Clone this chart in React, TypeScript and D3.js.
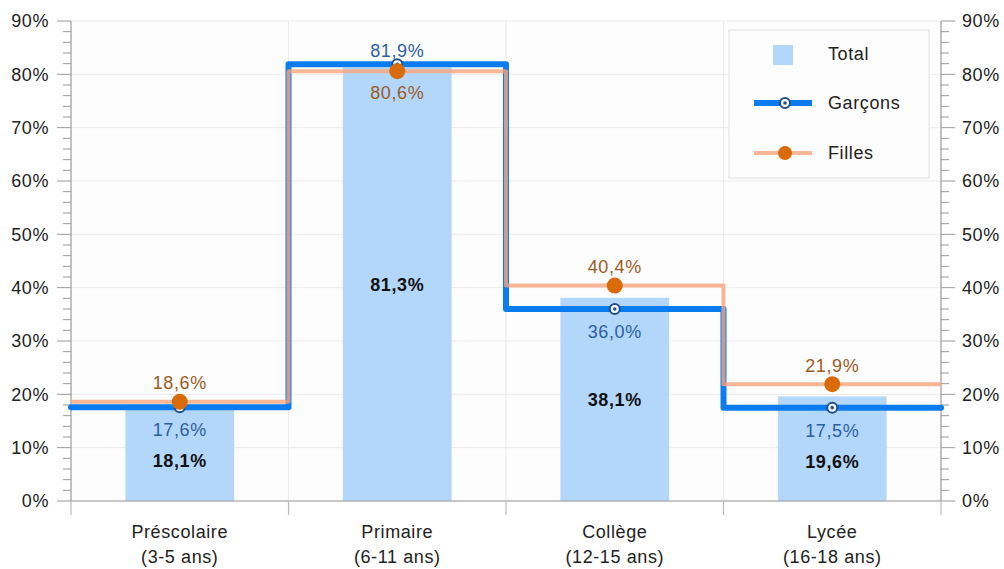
import React from "react";
import * as d3 from "d3";

const categories = ["Préscolaire", "Primaire", "Collège", "Lycée"];
const ageRanges = ["(3-5 ans)", "(6-11 ans)", "(12-15 ans)", "(16-18 ans)"];
const total = [18.1, 81.3, 38.1, 19.6];
const garcons = [17.6, 81.9, 36.0, 17.5];
const filles = [18.6, 80.6, 40.4, 21.9];
const yTicks = [0, 10, 20, 30, 40, 50, 60, 70, 80, 90];
const minorTicks = d3.range(0, 91, 2);

const W = 1004;
const H = 569;
const m = { left: 71, right: 63, top: 21, bottom: 68 };
const FONT = "Arial, 'Liberation Sans', sans-serif";
const FS = 18;
const LS = 0.6;
const FILLES_LINE = "#faa47c";
const FILLES_OP = 0.8;

const fmt = (v: number) => v.toFixed(1).replace(".", ",") + "%";

export default function App() {
  const x = d3
    .scaleBand<string>()
    .domain(categories)
    .range([m.left, W - m.right])
    .paddingInner(0)
    .paddingOuter(0);
  const y = d3.scaleLinear().domain([0, 90]).range([H - m.bottom, m.top]);
  const bw = x.bandwidth();
  const x0 = m.left;
  const x1 = W - m.right;

  const stepLine = (vals: number[]) => {
    const pts: [number, number][] = vals.map((v, i) => [x(categories[i])!, y(v)]);
    pts.push([x1, y(vals[vals.length - 1])]);
    return d3.line().curve(d3.curveStepAfter)(pts) || "";
  };

  const cx = (i: number) => x(categories[i])! + bw / 2;

  return (
    <svg
      width={W}
      height={H}
      style={{ position: "absolute", left: 0, top: 0, fontFamily: FONT, letterSpacing: LS }}
    >
      <rect x={0} y={0} width={W} height={H} fill="#fff" />
      <rect x={x0} y={m.top} width={x1 - x0} height={y(0) - m.top} fill="#fdfdfd" />
      {/* gridlines */}
      {yTicks.map((t) => (
        <line key={"g" + t} x1={x0} x2={x1} y1={y(t)} y2={y(t)} stroke="#ebebeb" strokeWidth={1} />
      ))}
      {categories.slice(1).map((c) => (
        <line key={"vg" + c} x1={x(c)!} x2={x(c)!} y1={m.top} y2={y(0)} stroke="#ebebeb" strokeWidth={1} />
      ))}
      {/* bars */}
      {total.map((v, i) => (
        <rect
          key={"b" + i}
          x={cx(i) - bw / 4}
          width={bw / 2}
          y={y(v)}
          height={y(0) - y(v)}
          fill="#b3d7fb"
        />
      ))}
      {/* axes */}
      <line x1={x0} x2={x0} y1={m.top} y2={y(0)} stroke="#999" strokeWidth={1.2} />
      <line x1={x1} x2={x1} y1={m.top} y2={y(0)} stroke="#999" strokeWidth={1.2} />
      {minorTicks.map((t) => {
        const major = t % 10 === 0;
        return (
          <g key={"mt" + t}>
            <line x1={x0 - (major ? 14 : 8)} x2={x0} y1={y(t)} y2={y(t)} stroke="#999" strokeWidth={1} />
            <line x1={x1} x2={x1 + (major ? 14 : 8)} y1={y(t)} y2={y(t)} stroke="#999" strokeWidth={1} />
          </g>
        );
      })}
      {yTicks.map((t) => (
        <g key={"yl" + t} fontSize={FS} fill="#222">
          <text x={x0 - 22} y={y(t)} dy="0.35em" textAnchor="end">
            {t}%
          </text>
          <text x={x1 + 21} y={y(t)} dy="0.35em" textAnchor="start">
            {t}%
          </text>
        </g>
      ))}
      <line x1={x0} x2={x1} y1={y(0)} y2={y(0)} stroke="#999" strokeWidth={1.2} />
      {[...categories.map((c) => x(c)!), x1].map((px, i) => (
        <line key={"xt" + i} x1={px} x2={px} y1={y(0)} y2={y(0) + 14} stroke="#bbb" strokeWidth={1.2} />
      ))}
      {categories.map((c, i) => (
        <g key={"xl" + c} fontSize={FS} fill="#222" textAnchor="middle">
          <text x={cx(i)} y={538}>
            {c}
          </text>
          <text x={cx(i)} y={563}>
            {ageRanges[i]}
          </text>
        </g>
      ))}
      {/* lines */}
      <path d={stepLine(garcons)} fill="none" stroke="#0a7cf0" strokeWidth={6} strokeLinejoin="round" strokeLinecap="round" />
      <path d={stepLine(filles)} fill="none" stroke={FILLES_LINE} strokeOpacity={FILLES_OP} strokeWidth={4} strokeLinejoin="round" />
      {/* markers */}
      {garcons.map((v, i) => (
        <g key={"gm" + i}>
          <circle cx={cx(i)} cy={y(v)} r={5} fill="#fff" stroke="#1f4e8c" strokeWidth={2} />
          <circle cx={cx(i)} cy={y(v)} r={1.8} fill="#1f4e8c" />
        </g>
      ))}
      {filles.map((v, i) => (
        <circle key={"fm" + i} cx={cx(i)} cy={y(v)} r={8} fill="#d96b0b" />
      ))}
      {/* value labels */}
      {garcons.map((v, i) => {
        const above = v > filles[i];
        return (
          <text
            key={"gl" + i}
            x={cx(i)}
            y={above ? y(v) - 14 : y(v) + 23}
            dy="0.35em"
            textAnchor="middle"
            fontSize={FS}
            fill="#2c5f9e"
          >
            {fmt(v)}
          </text>
        );
      })}
      {filles.map((v, i) => {
        const above = v >= garcons[i];
        return (
          <text
            key={"fl" + i}
            x={cx(i)}
            y={above ? y(v) - 19 : y(v) + 22}
            dy="0.35em"
            textAnchor="middle"
            fontSize={FS}
            fill="#9c5a1f"
          >
            {fmt(v)}
          </text>
        );
      })}
      {total.map((v, i) => {
        const mid = (y(v) + y(0)) / 2;
        const gLabelCenter = garcons[i] > filles[i] ? y(garcons[i]) - 14 : y(garcons[i]) + 23;
        const c = Math.max(mid, gLabelCenter + 31);
        return (
          <text key={"tl" + i} x={cx(i)} y={c} dy="0.35em" textAnchor="middle" fontSize={FS} fontWeight="bold" fill="#111">
            {fmt(v)}
          </text>
        );
      })}
      {/* legend */}
      <g>
        <rect x={729} y={30} width={200} height={148} fill="#fdfdfd" stroke="#e0e0e0" strokeWidth={1} />
        <rect x={773} y={45} width={20} height={20} fill="#b3d7fb" />
        <text x={828} y={54} dy="0.35em" fontSize={FS} fill="#222">Total</text>
        <line x1={754} x2={812} y1={103} y2={103} stroke="#0a7cf0" strokeWidth={6} />
        <circle cx={785} cy={103} r={5} fill="#fff" stroke="#1f4e8c" strokeWidth={2} />
        <circle cx={785} cy={103} r={1.8} fill="#1f4e8c" />
        <text x={828} y={103} dy="0.35em" fontSize={FS} fill="#222">Garçons</text>
        <line x1={754} x2={812} y1={153} y2={153} stroke={FILLES_LINE} strokeOpacity={FILLES_OP} strokeWidth={4} />
        <circle cx={785} cy={153} r={7} fill="#d96b0b" />
        <text x={828} y={153} dy="0.35em" fontSize={FS} fill="#222">Filles</text>
      </g>
    </svg>
  );
}
